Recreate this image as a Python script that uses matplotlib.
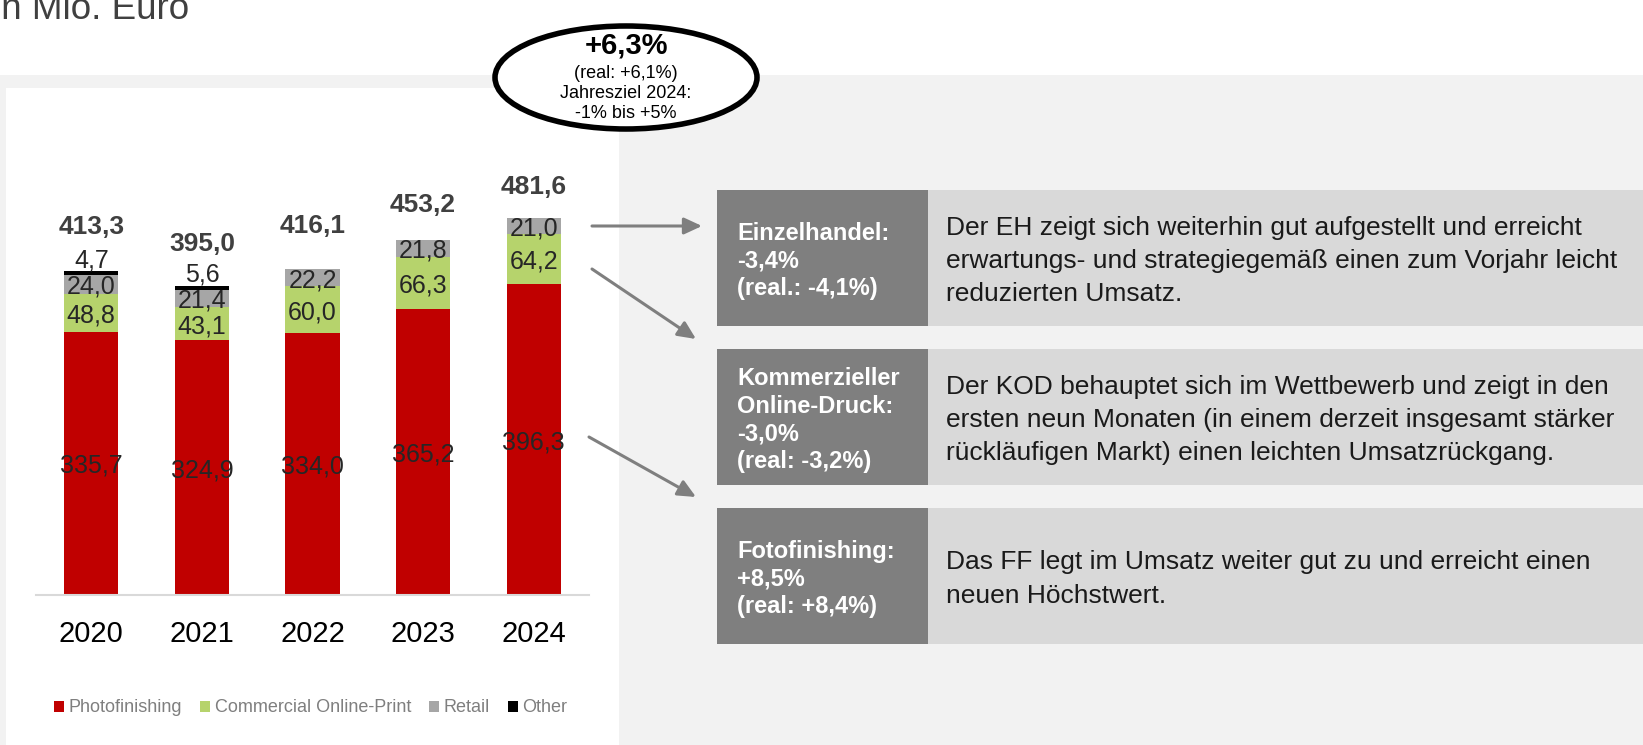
import matplotlib.pyplot as plt
from matplotlib.patches import Rectangle, Ellipse, FancyArrowPatch

plt.rcParams['font.family'] = ['Liberation Sans', 'DejaVu Sans']

# Umsatz nach Segment, in Mio. Euro
years = ['2020', '2021', '2022', '2023', '2024']
photofinishing = [335.7, 324.9, 334.0, 365.2, 396.3]
commercial = [48.8, 43.1, 60.0, 66.3, 64.2]
retail = [24.0, 21.4, 22.2, 21.8, 21.0]
other = [4.7, 5.6, 0.0, 0.0, 0.0]
totals = [413.3, 395.0, 416.1, 453.2, 481.6]

series_names = ['Photofinishing', 'Commercial Online-Print', 'Retail', 'Other']
series_colors = ['#c00000', '#b6d36c', '#a6a6a6', '#000000']

# Abstand der Summenbeschriftung über dem Balken (Pixel)
total_label_gap = [44, 42, 43, 35, 31]

segments = [
    ('Einzelhandel:\n-3,4%\n(real.: -4,1%)',
     'Der EH zeigt sich weiterhin gut aufgestellt und erreicht\n'
     'erwartungs- und strategiegemäß einen zum Vorjahr leicht\n'
     'reduzierten Umsatz.'),
    ('Kommerzieller\nOnline-Druck:\n-3,0%\n(real: -3,2%)',
     'Der KOD behauptet sich im Wettbewerb und zeigt in den\n'
     'ersten neun Monaten (in einem derzeit insgesamt stärker\n'
     'rückläufigen Markt) einen leichten Umsatzrückgang.'),
    ('Fotofinishing:\n+8,5%\n(real: +8,4%)',
     'Das FF legt im Umsatz weiter gut zu und erreicht einen\n'
     'neuen Höchstwert.'),
]

W, H = 1643, 745


def fx(x):
    return x / W


def fy(y):
    return 1 - y / H


def de(v):
    return f'{v:.1f}'.replace('.', ',')


fig = plt.figure(figsize=(W / 100, H / 100), dpi=100)
fig.patch.set_facecolor('white')

# Hintergrundflächen
fig.add_artist(Rectangle((0, 0), 1, fy(75), transform=fig.transFigure,
                         facecolor='#f2f2f2', edgecolor='none', zorder=-10))
fig.add_artist(Rectangle((fx(6), 0), fx(619) - fx(6), fy(88), transform=fig.transFigure,
                         facecolor='white', edgecolor='none', zorder=-9))

fig.text(fx(-7), fy(19), 'in Mio. Euro', fontsize=26.5, color='#404040',
         ha='left', va='baseline')

# Gestapelte Balken
ax = fig.add_axes([fx(36), fy(595), fx(589) - fx(36), (595 - 203.25) / H])
ax.patch.set_visible(False)
x = range(len(years))
bottom = [0.0] * len(years)
handles = []
for name, vals, col in zip(series_names, [photofinishing, commercial, retail, other], series_colors):
    bars = ax.bar(x, vals, width=0.49, bottom=bottom, color=col, label=name)
    handles.append(bars)
    for i, v in enumerate(vals):
        if v <= 0:
            continue
        if name == 'Other':
            ax.annotate(de(v), (i, bottom[i] + v), xytext=(0, 8), textcoords='offset points',
                        ha='center', va='center', fontsize=18, color='#262626')
        else:
            ax.text(i, bottom[i] + v / 2, de(v), ha='center', va='center_baseline',
                    fontsize=18, color='#262626')
    bottom = [b + v for b, v in zip(bottom, vals)]

for i, t in enumerate(totals):
    ax.annotate(de(t), (i, t), xytext=(0, total_label_gap[i] * 0.72), textcoords='offset points',
                ha='center', va='center', fontsize=19, fontweight='bold', color='#404040')

ax.set_xlim(-0.5, 4.5)
ax.set_ylim(0, 500)
ax.set_yticks([])
ax.set_xticks(list(x), years, fontsize=21, color='black')
ax.tick_params(axis='x', length=0, pad=18)
for s in ['top', 'left', 'right']:
    ax.spines[s].set_visible(False)
ax.spines['bottom'].set_color('#d9d9d9')
ax.spines['bottom'].set_linewidth(1.5)

ax.legend(handles=handles, loc='center', bbox_to_anchor=(fx(311), fy(708)),
          bbox_transform=fig.transFigure, ncol=4, frameon=False, fontsize=13,
          handlelength=0.55, handleheight=0.55, handletextpad=0.25,
          columnspacing=1.0, labelcolor='#7f7f7f')

# Wachstums-Ellipse
fig.add_artist(Ellipse((fx(626), fy(77.5)), 262 / W, 103 / H, transform=fig.transFigure,
                       facecolor='white', edgecolor='black', lw=4, zorder=5))
fig.text(fx(626), fy(45), '+6,3%', fontsize=21, fontweight='bold', ha='center', va='center', zorder=6)
fig.text(fx(626), fy(73), '(real: +6,1%)', fontsize=13, ha='center', va='center', zorder=6)
fig.text(fx(626), fy(93), 'Jahresziel 2024:', fontsize=13, ha='center', va='center', zorder=6)
fig.text(fx(626), fy(114), '-1% bis +5%', fontsize=13, ha='center', va='center', zorder=6)

# Pfeile zu den Segmentboxen
for (x0, y0), (x1, y1) in [((592, 226), (702, 226)), ((592, 269), (696, 339)), ((589, 437), (696, 497))]:
    fig.add_artist(FancyArrowPatch((fx(x0), fy(y0)), (fx(x1), fy(y1)), transform=fig.transFigure,
                                   arrowstyle='-|>,head_length=10.8,head_width=5', mutation_scale=1,
                                   color='#7f7f7f', lw=2.2, shrinkA=0, shrinkB=0))

# Segmentboxen
box_rows = [(190, 326), (349, 485), (508, 644)]
for (top, bot), (head, body) in zip(box_rows, segments):
    fig.add_artist(Rectangle((fx(717), fy(bot)), fx(928) - fx(717), (bot - top) / H,
                             transform=fig.transFigure, facecolor='#7f7f7f', edgecolor='none', zorder=-5))
    fig.add_artist(Rectangle((fx(928), fy(bot)), 1 - fx(928), (bot - top) / H,
                             transform=fig.transFigure, facecolor='#d9d9d9', edgecolor='none', zorder=-5))
    mid = (top + bot) / 2 + 3
    fig.text(fx(737), fy(mid), head, fontsize=17, fontweight='bold', color='white',
             ha='left', va='center', linespacing=1.26)
    fig.text(fx(946), fy(mid), body, fontsize=19, color='#1a1a1a',
             ha='left', va='center', linespacing=1.48)

fig.savefig('out.png', dpi=100)
